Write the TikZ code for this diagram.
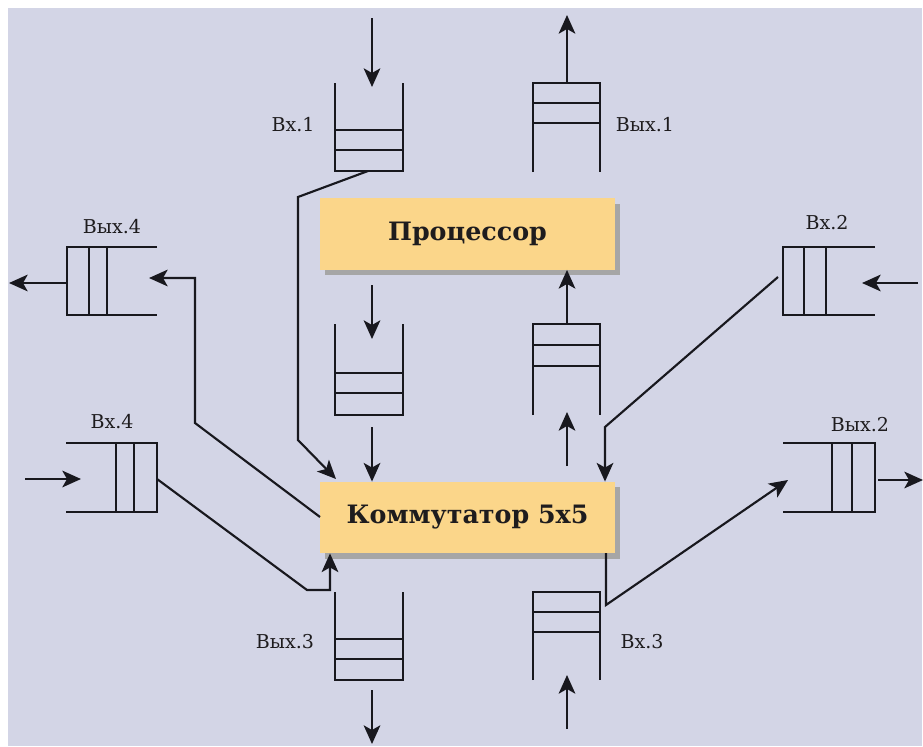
\documentclass[tikz,border=0pt]{standalone}
\usepackage{fontspec}
\setmainfont{DejaVu Serif}
\usetikzlibrary{arrows.meta,shadows}
\definecolor{bg}{RGB}{211,213,230}
\definecolor{boxc}{RGB}{251,214,138}
\definecolor{linec}{RGB}{24,24,30}
\definecolor{txt}{RGB}{30,28,30}
\tikzset{
  qline/.style={line width=1.6pt, draw=linec},
  conn/.style={line width=1.6pt, draw=linec, -{Stealth[length=14pt,width=12.5pt,inset=3.5pt]}},
  lbl/.style={font=\fontsize{14.3}{16}\selectfont, text=txt, inner sep=0pt},
  unit/.style={fill=boxc, minimum width=221.25pt, minimum height=53.5pt, inner sep=0pt,
    font=\bfseries\fontsize{19}{22}\selectfont, text=txt,
    drop shadow={shadow xshift=4pt, shadow yshift=-4pt, fill=black!35, opacity=1}}
}
\begin{document}
\begin{tikzpicture}[x=0.75pt,y=-0.75pt]
\useasboundingbox (0,0) rectangle (923,746);
\fill[white] (0,0) rectangle (923,746);
\fill[bg] (8,8) rectangle (922,746);

% boxes
\node[unit] (proc) at (467.5,234) {Процессор};
\node[unit] (comm) at (467.5,517.5) {Коммутатор 5x5};

% ---- vertical queues, cells at bottom ----
% Vx.1
\draw[qline] (335,83) -- (335,171) -- (403,171) -- (403,83);
\draw[qline] (335,130) -- (403,130) (335,150) -- (403,150);
% processor output queue
\draw[qline] (335,324) -- (335,415) -- (403,415) -- (403,324);
\draw[qline] (335,373) -- (403,373) (335,393) -- (403,393);
% Vyx.3
\draw[qline] (335,592) -- (335,680) -- (403,680) -- (403,592);
\draw[qline] (335,639) -- (403,639) (335,659) -- (403,659);

% ---- vertical queues, cells at top ----
% Vyx.1
\draw[qline] (533,172) -- (533,83) -- (600,83) -- (600,172);
\draw[qline] (533,103) -- (600,103) (533,123) -- (600,123);
% processor input queue
\draw[qline] (533,415) -- (533,324) -- (600,324) -- (600,415);
\draw[qline] (533,345) -- (600,345) (533,366) -- (600,366);
% Vx.3
\draw[qline] (533,680) -- (533,592) -- (600,592) -- (600,680);
\draw[qline] (533,612) -- (600,612) (533,632) -- (600,632);

% ---- horizontal queues ----
% Vyx.4 (closed left)
\draw[qline] (157,247) -- (67,247) -- (67,315) -- (157,315);
\draw[qline] (89,247) -- (89,315) (107,247) -- (107,315);
% Vx.2 (closed left)
\draw[qline] (875,247) -- (783,247) -- (783,315) -- (875,315);
\draw[qline] (804,247) -- (804,315) (826,247) -- (826,315);
% Vx.4 (closed right)
\draw[qline] (66,443) -- (157,443) -- (157,512) -- (66,512);
\draw[qline] (116,443) -- (116,512) (134,443) -- (134,512);
% Vyx.2 (closed right)
\draw[qline] (783,443) -- (875,443) -- (875,512) -- (783,512);
\draw[qline] (832,443) -- (832,512) (852,443) -- (852,512);

% labels
\node[lbl] (l1) at (293,125) {Вх.1};
\node[lbl] (l2) at (645,125) {Вых.1};
\node[lbl] (l3) at (112,227) {Вых.4};
\node[lbl] (l4) at (827,223) {Вх.2};
\node[lbl] (l5) at (112,422) {Вх.4};
\node[lbl] (l6) at (860,425) {Вых.2};
\node[lbl] (l7) at (285,642) {Вых.3};
\node[lbl] (l8) at (642,642) {Вх.3};

% coordinates for connectors
\coordinate (in1a) at (372,18);   \coordinate (in1b) at (372,87);
\coordinate (out1a) at (567,83);  \coordinate (out1b) at (567,15);
\coordinate (pqa) at (372,285);   \coordinate (pqb) at (372,339);
\coordinate (pqc) at (372,427);
\coordinate (iqa) at (567,324);
\coordinate (iqb) at (567,466);   \coordinate (iqc) at (567,412);
\coordinate (in3a) at (567,729);  \coordinate (in3b) at (567,675);
\coordinate (out3a) at (372,690); \coordinate (out3b) at (372,744);
\coordinate (in2a) at (918,283);  \coordinate (in2b) at (862,283);
\coordinate (out2a) at (878,480); \coordinate (out2b) at (923,480);
\coordinate (out4a) at (67,283);  \coordinate (out4b) at (9,283);
\coordinate (in4a) at (25,479);   \coordinate (in4b) at (81,479);
\coordinate (q1) at (368,171);
\coordinate (q2) at (778,277);
\coordinate (q4) at (157,479);
\coordinate (q5) at (149,278);
\coordinate (q6) at (788,480);
\coordinate (x605) at (605,427);
\coordinate (x330) at (330,590);
\coordinate (cw) at (320,517);
\coordinate (cs) at (606,553);

% connectors
\draw[conn] (in1a) -- (in1b);
\draw[conn] (out1a) -- (out1b);
\draw[conn] (pqa) -- (pqb);
\draw[conn] (pqc) -- (pqc |- comm.north);
\draw[conn] (iqa) -- (iqa |- proc.south);
\draw[conn] (iqb) -- (iqc);
\draw[conn] (in3a) -- (in3b);
\draw[conn] (out3a) -- (out3b);
\draw[conn] (in2a) -- (in2b);
\draw[conn] (out2a) -- (out2b);
\draw[conn] (out4a) -- (out4b);
\draw[conn] (in4a) -- (in4b);

\draw[conn] (q1) -- (298,197) -- (298,440) -- (336,479);
\draw[conn] (q2) -- (x605) -- (x605 |- comm.north);
\draw[conn] (q4) -- (307,590) -- (x330) -- (x330 |- comm.south);
\draw[conn] (cw) -- (195,423) -- (195,278) -- (q5);
\draw[conn] (cs) -- (606,605) -- (q6);
\end{tikzpicture}
\end{document}
